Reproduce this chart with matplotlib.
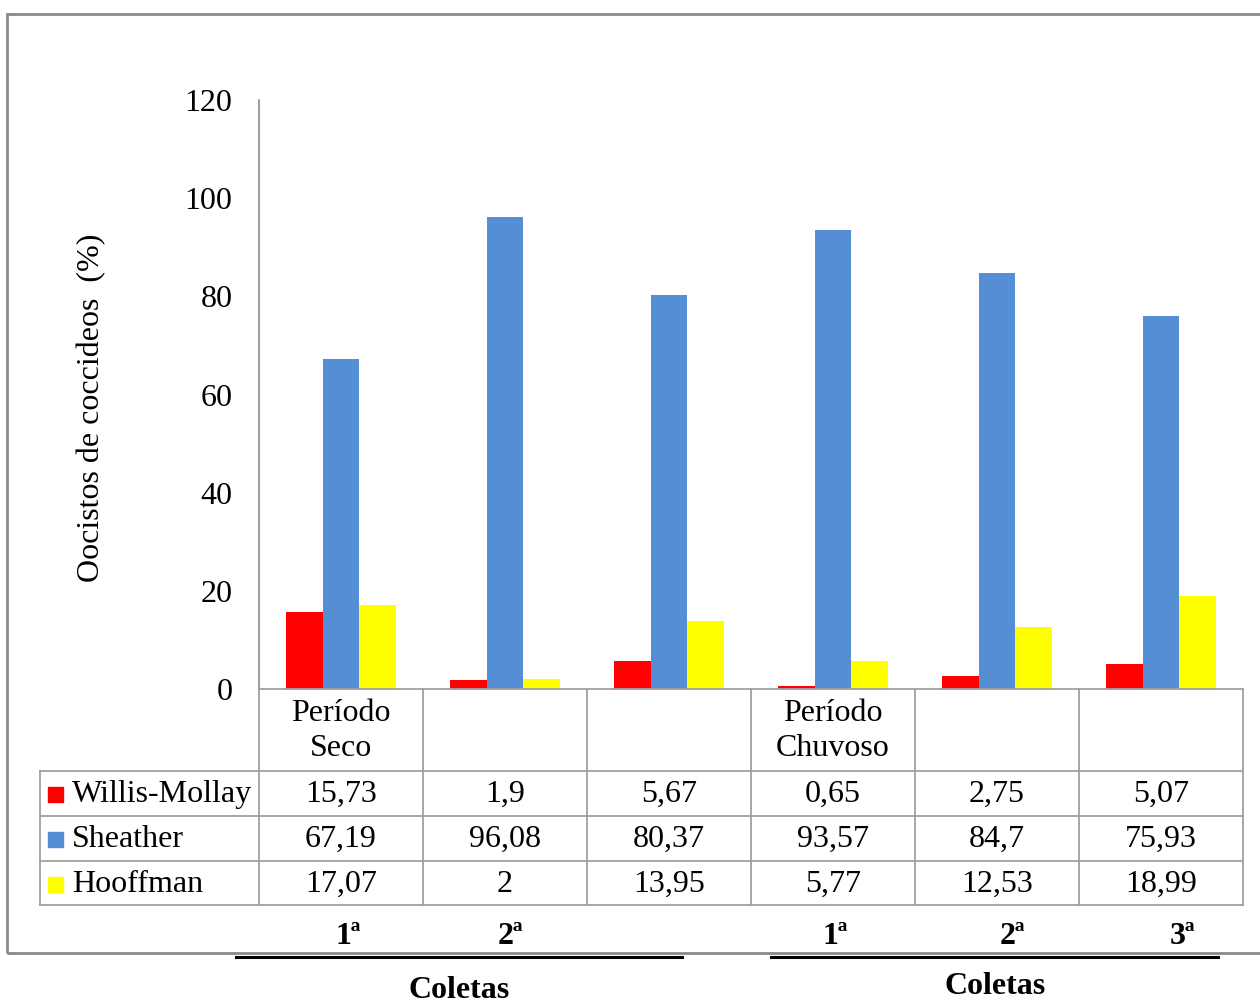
import matplotlib.pyplot as plt
import matplotlib.transforms as mtransforms
from matplotlib.patches import Rectangle
import numpy as np

plt.rcParams['font.family'] = ['Liberation Serif', 'DejaVu Serif']

# data
series = ['Willis-Mollay', 'Sheather', 'Hooffman']
colors = ['#ff0000', '#558ed5', '#ffff00']
willis = [15.73, 1.9, 5.67, 0.65, 2.75, 5.07]
sheather = [67.19, 96.08, 80.37, 93.57, 84.7, 75.93]
hooffman = [17.07, 2, 13.95, 5.77, 12.53, 18.99]
values = [willis, sheather, hooffman]
headers = ['Período\nSeco', '', '', 'Período\nChuvoso', '', '']
coletas = ['1ª', '2ª', '', '1ª', '2ª', '3ª']

W, H = 1260, 1007
FS = 23
fig = plt.figure(figsize=(W / 100, H / 100), dpi=100)


def fx(px):
    return px / W


def fy(py):
    return 1 - py / H


ax = fig.add_axes([fx(259), fy(689), fx(1243) - fx(259), fy(100) - fy(689)])
x = np.arange(len(willis))
bw = 0.2226
for i, (vals, c) in enumerate(zip(values, colors)):
    ax.bar(x + (i - 1) * bw, vals, width=bw, color=c, edgecolor='none')

ax.set_xlim(-0.5, 5.5)
ax.set_ylim(0, 120)
ax.set_yticks(range(0, 121, 20))
ax.tick_params(axis='y', length=0, pad=19, labelsize=FS)
ax.set_xticks([])
for s in ['top', 'right', 'bottom']:
    ax.spines[s].set_visible(False)
ax.spines['left'].set_color('#8c8c8c')
ax.spines['left'].set_linewidth(1.2)

fig.text(fx(92), fy(408), 'Oocistos de coccideos  (%)', rotation=90,
         ha='center', va='center', fontsize=FS)

# data table under the bars
tr = mtransforms.blended_transform_factory(ax.transData, fig.transFigure)
grid = dict(color='#a0a0a0', lw=1.3, clip_on=False)
row_y = [689, 771, 816, 861, 905]
edges = np.arange(-0.5, 6.0, 1.0)
fig.add_artist(plt.Line2D([-0.5, 5.5], [fy(689)] * 2, transform=tr, **grid))
for ypx in row_y[1:]:
    fig.add_artist(plt.Line2D([fx(40), fx(1243)], [fy(ypx)] * 2, **grid))
for e in edges:
    fig.add_artist(plt.Line2D([e, e], [fy(689), fy(905)], transform=tr, **grid))
fig.add_artist(plt.Line2D([fx(40)] * 2, [fy(771), fy(905)], **grid))

for j, h in enumerate(headers):
    if h:
        fig.text(x[j], fy(731), h, transform=tr, ha='center', va='center',
                 fontsize=FS, linespacing=1.25)

for i, (name, c, vals) in enumerate(zip(series, colors, values)):
    yc = (row_y[i + 1] + row_y[i + 2]) / 2 + 1
    fig.add_artist(Rectangle((fx(48), fy(yc) - 7.5 / H), 15 / W, 15 / H,
                             color=c, transform=fig.transFigure))
    fig.text(fx(72), fy(yc), name, ha='left', va='center', fontsize=FS)
    for j, v in enumerate(vals):
        fig.text(x[j], fy(yc), f'{v:g}'.replace('.', ','), transform=tr,
                 ha='center', va='center', fontsize=FS)

# collection labels below the table
col_px = [348, 510, None, 835, 1012, 1182]
for lab, px in zip(coletas, col_px):
    if lab:
        fig.text(fx(px), fy(937), lab, ha='center', va='center',
                 fontsize=FS, fontweight='bold')
fig.add_artist(plt.Line2D([fx(236), fx(682)], [fy(957)] * 2, color='black', lw=2.2))
fig.add_artist(plt.Line2D([fx(771), fx(1218)], [fy(957)] * 2, color='black', lw=2.2))
fig.text(fx(459), fy(990), 'Coletas', ha='center', va='center',
         fontsize=FS, fontweight='bold')
fig.text(fx(995), fy(987), 'Coletas', ha='center', va='center',
         fontsize=FS, fontweight='bold')

# outer frame
fig.add_artist(Rectangle((fx(7), fy(953)), fx(1265) - fx(7), fy(14) - fy(953),
                         fill=False, edgecolor='#8a8a8a', lw=2,
                         transform=fig.transFigure))

fig.savefig('out.png', dpi=100, facecolor='white')
